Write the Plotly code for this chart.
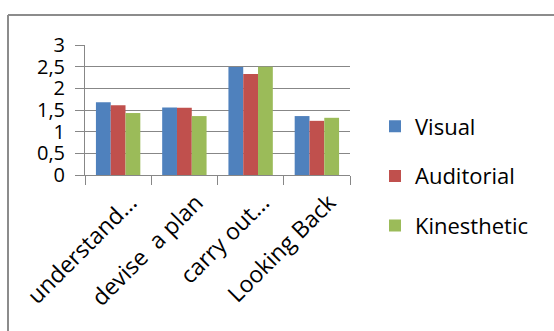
import plotly.graph_objects as go

categories = ["understand...", "devise  a plan", "carry out...", "Looking Back"]
visual = [1.68, 1.56, 2.49, 1.36]
auditorial = [1.61, 1.55, 2.33, 1.25]
kinesthetic = [1.43, 1.36, 2.50, 1.32]
series_names = ["Visual", "Auditorial", "Kinesthetic"]
colors = ["#4F81BD", "#C0504D", "#9BBB59"]
y_ticks = [0, 0.5, 1, 1.5, 2, 2.5, 3]
y_ticktext = ["0", "0,5", "1", "1,5", "2", "2,5", "3"]

FONT = "Open Sans"
GRAY = "#878787"

fig = go.Figure()
for name, vals, col in zip(series_names, [visual, auditorial, kinesthetic], colors):
    fig.add_trace(go.Bar(x=categories, y=vals, name=name, marker_color=col,
                         marker_line_width=0, legendgroup=name))

L, R, T, B = 85, 204, 45, 156
W, H = 554, 331
pw, ph = W - L - R, H - T - B

def px_x(p):
    return (p - L) / pw

def px_y(p):
    return (H - B - p) / ph

fig.update_layout(
    width=W, height=H,
    margin=dict(l=L, r=R, t=T, b=B),
    paper_bgcolor="white", plot_bgcolor="white",
    barmode="group", bargap=0.33, bargroupgap=0,
    font=dict(family=FONT, size=21, color="black"),
    showlegend=True,
    legend=dict(x=px_x(375), xanchor="left", y=px_y(176), yanchor="middle",
                font=dict(family=FONT, size=22, color="black"),
                tracegroupgap=18, bgcolor="rgba(0,0,0,0)"),
    xaxis=dict(type="category", showline=True, linecolor=GRAY, linewidth=1,
               ticks="outside", tickson="boundaries", ticklen=9, tickcolor=GRAY,
               tickangle=-45, showgrid=False,
               ticklabelshift=12, ticklabelstandoff=4,
               tickfont=dict(family=FONT, size=23, color="black")),
    yaxis=dict(range=[0, 3], tickvals=y_ticks, ticktext=y_ticktext,
               showline=True, linecolor=GRAY, linewidth=1,
               ticks="outside", ticklen=9, tickcolor=GRAY,
               showgrid=True, gridcolor=GRAY, gridwidth=1, zeroline=False,
               ticklabelstandoff=6,
               tickfont=dict(family=FONT, size=20, color="black")),
    shapes=[
        dict(type="line", xref="paper", yref="paper", x0=px_x(8), x1=px_x(556),
             y0=px_y(15), y1=px_y(15), line=dict(color="#8c8c8c", width=2)),
        dict(type="line", xref="paper", yref="paper", x0=px_x(8), x1=px_x(8),
             y0=px_y(15), y1=px_y(335), line=dict(color="#8c8c8c", width=2)),
    ],
)

fig.write_html("out.html")
